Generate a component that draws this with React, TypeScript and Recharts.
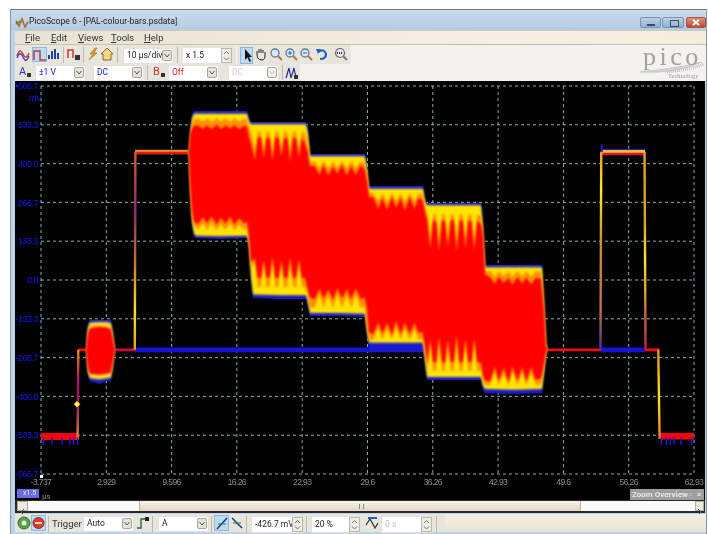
import React from "react";
import { ComposedChart, XAxis, YAxis, CartesianGrid, Area, Line, Scatter } from "recharts";

// time axis in µs, voltage axis in mV
const xTicks = [-3.737, 2.929, 9.596, 16.26, 22.93, 29.6, 36.26, 42.93, 49.6, 56.26, 62.93];
const yTicks = [666.7, 533.3, 400, 266.7, 133.3, 0, -133.3, -266.7, -400, -533.3, -666.7];
const yLabels = ["▪666.7", "533.3", "400.0", "266.7", "133.3", "0.0", "-133.3", "-266.7", "-400.0", "-533.3", "-666.7"];

// envelope of the six colour bars
const outlineTimes = [11.27, 11.37, 11.48, 11.68, 11.88, 12.09, 14.54, 17.3, 17.5, 17.7, 17.91, 20.67, 23.32, 23.52, 23.73, 26.28, 29.34, 29.55, 29.75, 32.41, 35.27, 35.47, 35.67, 38.53, 41.19, 41.39, 41.6, 44.66, 47.42, 47.62, 47.82, 47.93];
const blueHi = [443, 447, 515, 570, 581, 581, 581, 581, 557, 543, 543, 543, 543, 522, 433, 433, 433, 395, 323, 323, 323, 282, 265, 265, 265, 189, 52, 52, 52, -69, -206, -237];
const blueLo = [436, 426, 309, 189, 151, 144, 141, 144, 103, 0, -62, -65, -65, -89, -124, -124, -127, -189, -247, -247, -247, -292, -344, -344, -344, -378, -388, -392, -388, -326, -268, -244];
const yellowHi = [440, 440, 500, 555, 571, 571, 571, 571, 545, 535, 535, 535, 535, 505, 425, 425, 425, 380, 314, 314, 314, 270, 257, 257, 257, 175, 44, 44, 44, -80, -215, -240];
const yellowLo = [440, 430, 320, 200, 160, 152, 150, 152, 115, 12, -50, -52, -52, -75, -113, -113, -116, -175, -216, -216, -216, -270, -333, -333, -333, -365, -375, -377, -375, -315, -258, -240];

// red core and its orange fringe, jagged where the chroma fingers bite in
const redTimes = [11.27, 11.37, 11.48, 11.68, 11.88,
  12.3, 12.8, 13.2, 13.7, 14.2, 14.6, 15.1, 15.6, 16.0, 16.5, 17.0, 17.3, 17.5, 17.7,
  18.1, 18.4, 18.7, 19.0, 19.3, 19.6, 19.9, 20.2, 20.5, 20.8, 21.1, 21.4, 21.7, 22.0, 22.3, 22.6, 22.9, 23.2, 23.5, 23.7,
  24.2, 24.7, 25.1, 25.6, 26.1, 26.5, 27.0, 27.5, 27.9, 28.4, 28.9, 29.3, 29.55, 29.75,
  30.2, 30.7, 31.1, 31.6, 32.1, 32.5, 33.0, 33.4, 33.9, 34.4, 34.8, 35.2, 35.5, 35.7,
  36.0, 36.3, 36.6, 36.9, 37.2, 37.5, 37.8, 38.1, 38.4, 38.7, 39.0, 39.3, 39.6, 39.9, 40.2, 40.5, 40.8, 41.2, 41.4, 41.6,
  42.1, 42.6, 43.0, 43.5, 44.0, 44.4, 44.9, 45.4, 45.8, 46.3, 46.8, 47.3, 47.6, 47.8, 47.93];
const orangeHi = [438, 438, 480, 530, 552,
  556, 545, 556, 545, 556, 545, 556, 545, 556, 545, 556, 552, 525, 510,
  445, 510, 510, 450, 510, 510, 440, 510, 510, 455, 510, 510, 438, 510, 510, 450, 510, 505, 470, 405,
  408, 385, 408, 385, 408, 385, 408, 385, 408, 385, 408, 404, 360, 298,
  298, 270, 298, 268, 298, 272, 298, 266, 298, 270, 298, 295, 245, 225,
  140, 225, 225, 132, 225, 225, 145, 225, 225, 130, 225, 225, 140, 225, 225, 136, 225, 220, 150, 30,
  30, 12, 30, 14, 30, 12, 30, 13, 30, 12, 30, 28, -90, -220, -240];
const orangeLo = [440, 434, 330, 225, 190,
  172, 195, 172, 198, 170, 192, 172, 195, 170, 190, 172, 178, 140, 40,
  60, -25, -25, 55, -25, -25, 65, -25, -25, 50, -25, -25, 62, -25, -25, 56, -25, -25, -50, -95,
  -95, -50, -95, -54, -95, -48, -95, -52, -95, -50, -95, -92, -160, -205,
  -205, -165, -205, -168, -205, -162, -205, -166, -205, -168, -205, -200, -262, -312,
  -220, -312, -312, -212, -312, -312, -222, -312, -312, -208, -312, -312, -220, -312, -312, -216, -312, -312, -345, -362,
  -362, -318, -362, -322, -362, -316, -362, -320, -362, -321, -362, -358, -305, -250, -240];
const redHi = [441, 441, 500, 520, 530,
  530, 520, 532, 518, 534, 519, 531, 521, 533, 518, 530, 526, 490, 470,
  412, 488, 492, 418, 490, 486, 410, 492, 488, 425, 486, 490, 408, 491, 485, 420, 489, 470, 440, 392,
  392, 362, 395, 360, 390, 365, 396, 358, 392, 362, 394, 380, 340, 285,
  284, 245, 282, 242, 286, 248, 282, 240, 284, 246, 282, 275, 230, 205,
  108, 205, 202, 100, 206, 200, 112, 204, 207, 98, 203, 205, 108, 206, 200, 104, 204, 190, 150, 18,
  10, -14, 12, -10, 8, -16, 11, -12, 9, -15, 8, 4, -100, -225, -239];
const redLo = [439, 436, 340, 240, 200,
  192, 216, 194, 218, 190, 214, 193, 217, 191, 212, 194, 200, 150, 60,
  76, 8, 6, 70, 7, 10, 80, 6, 9, 66, 8, 7, 78, 6, 10, 72, 7, 8, -30, -60,
  -66, -30, -64, -34, -68, -28, -63, -32, -66, -30, -65, -60, -100, -180,
  -186, -145, -184, -148, -188, -142, -185, -146, -186, -148, -183, -178, -230, -285,
  -203, -282, -283, -196, -281, -284, -206, -283, -280, -192, -284, -282, -204, -281, -283, -200, -282, -285, -330, -345,
  -348, -298, -345, -302, -350, -296, -346, -300, -348, -301, -344, -338, -290, -250, -241];

// colour burst after the sync pulse
const burstTimes = [0.86, 0.96, 1.06, 1.26, 2.2, 3.0, 3.4, 3.6, 3.82];
const burstBlueHi = [-240, -180, -150, -137, -137, -137, -137, -175, -238];
const burstBlueLo = [-240, -300, -330, -347, -357, -347, -347, -306, -242];
const burstYellowHi = [-240, -189, -162, -146, -144, -144, -148, -182, -239];
const burstYellowLo = [-240, -292, -320, -338, -342, -338, -336, -300, -241];
const burstRedHi = [-240, -205, -180, -165, -160, -163, -168, -200, -240];
const burstRedLo = [-240, -280, -305, -322, -326, -322, -318, -285, -240];

// flat levels: [start, end, low, high]
const blueLevelA = [5.86, 47.9, -248, -232];
const blueLevelB = [53.44, 57.93, -248, -232];
const syncLeft = [-3.737, 0.1, -550, -526];
const syncRight = [59.45, 62.93, -548, -526];
const blankA = [0.05, 0.9, -245, -235];
const blankB = [3.8, 5.9, -245, -235];
const blankC = [47.9, 53.44, -245, -235];
const blankD = [57.93, 59.4, -245, -235];
const whiteTopOuter = [5.86, 11.3, 432, 448];
const whiteTopInner = [5.86, 11.3, 433, 441];
const whiteTop2Blue = [53.44, 57.93, 428, 451];
const whiteTop2Yellow = [53.44, 57.93, 436, 447];
const whiteTop2Red = [53.44, 57.93, 430, 437];
const spikeBlue = [53.42, 53.62, 440, 466];

// the five steep edges
const edgeA = [[0.0, -548], [0.07, -240]];
const edgeB = [[5.84, -240], [5.9, 441]];
const edgeC = [[53.38, -240], [53.46, 441]];
const edgeD = [[57.88, 441], [57.98, -240]];
const edgeE = [[59.28, -240], [59.42, -546]];

// blue specks hanging under the sync floor
const speckTimes = [-3.5, -2.6, -1.6, -0.8, -0.4, 0.0, 59.6, 60.1, 60.5, 60.9, 61.6, 62.7];
const triggerPoint = [{ t: -0.06, v: -426.7 }];

const bandRows = (ts: number[], lo: number[], hi: number[]) => ts.map((t, i) => ({ t, range: [lo[i], hi[i]] }));
const flatRows = (f: number[]) => [{ t: f[0], range: [f[2], f[3]] }, { t: f[1], range: [f[2], f[3]] }];
const edgeRows = (e: number[][]) => e.map(([t, v]) => ({ t, v }));
const speckRows = speckTimes.flatMap((t) => [{ t, v: -540 }, { t, v: -566 }, { t, v: null }]);

function Band({ rows, color, soft }: { rows: any[]; color: string; soft?: boolean }) {
  return (
    <Area
      data={rows}
      dataKey="range"
      type="linear"
      fill={color}
      fillOpacity={1}
      stroke="none"
      dot={false}
      activeDot={false}
      isAnimationActive={false}
      legendType="none"
      {...(soft ? { filter: "url(#soft)" } : {})}
    />
  );
}

const UI = 'Roboto, "Noto Sans", sans-serif';
const AXIS_FONT = '"Liberation Sans", sans-serif';

function Box({ x, y, w, h, style, children }: any) {
  return <div style={{ position: "absolute", left: x, top: y, width: w, height: h, ...style }}>{children}</div>;
}

function Txt({ x, y, size = 9, color = "#222", children, style }: any) {
  return (
    <div style={{ position: "absolute", left: x, top: y, fontFamily: UI, fontSize: size, color, lineHeight: "13px", whiteSpace: "nowrap", ...style }}>
      {children}
    </div>
  );
}

function Combo({ x, y, w, text, color = "#222", muted }: any) {
  return (
    <Box x={x} y={y} w={w} h={14} style={{ background: "#fff", border: "1px solid #e4e2dc" }}>
      <Txt x={3} y={0} size={8.5} color={color}>{text}</Txt>
      <Box x={w - 11} y={1} w={10} h={11} style={{ background: muted ? "#f0efea" : "#e6e3da", border: "1px solid #a8a59c", borderRadius: 2, boxSizing: "border-box" }}>
        <svg width={8} height={9} style={{ position: "absolute", left: 0, top: 0 }}>
          <path d="M1.5 3 L4 6 L6.5 3" fill="none" stroke={muted ? "#c4c4c4" : "#555"} />
        </svg>
      </Box>
    </Box>
  );
}

function Spinner({ x, y, w, text, color = "#222" }: any) {
  return (
    <Box x={x} y={y} w={w} h={15} style={{ background: "#fff", border: "1px solid #e4e2dc" }}>
      <Txt x={3} y={1} size={8.5} color={color}>{text}</Txt>
      <Box x={w - 11} y={0} w={11} h={15} style={{ background: "#eeece4", border: "1px solid #bbb8ae", boxSizing: "border-box" }}>
        <svg width={9} height={13} style={{ position: "absolute", left: 0, top: 0 }}>
          <path d="M2 5 L4.5 2.5 L7 5 M2 8.5 L4.5 11 L7 8.5" fill="none" stroke="#777" />
        </svg>
      </Box>
    </Box>
  );
}

function Icon({ x, y, w = 14, h = 14, on, children }: any) {
  return (
    <Box x={x} y={y} w={w} h={h + 1} style={on ? { background: "#bcdcf5", border: "1px solid #8db8dc", boxSizing: "border-box" } : {}}>
      <svg width={w} height={h} style={{ position: "absolute", left: 0, top: 0 }}>{children}</svg>
    </Box>
  );
}

function Sep({ x, y, h = 16 }: any) {
  return <Box x={x} y={y} w={1} h={h} style={{ background: "#bdb9ae" }} />;
}

function Chrome() {
  return (
    <>
      <Box x={10} y={9} w={697} h={525} style={{ background: "#bcd3ea", borderTop: "1px solid #6f7780", borderLeft: "1px solid #8b97a3", borderRight: "1px solid #8b97a3", boxSizing: "border-box" }} />
      {/* title bar */}
      <Box x={11} y={10} w={695} h={20} style={{ background: "linear-gradient(#cddbeb,#b4cbe4)" }} />
      <svg width={14} height={12} style={{ position: "absolute", left: 15, top: 17 }}>
        <path d="M1 4 L4 9 L7 2 L10 10 L13 5" fill="none" stroke="#b06a20" strokeWidth={1.6} />
        <path d="M1 7 L5 4" stroke="#3a8a3a" strokeWidth={1.5} />
      </svg>
      <Txt x={29} y={15} size={8.6} color="#1c1c1c">PicoScope 6 - [PAL-colour-bars.psdata]</Txt>
      <Box x={640} y={17} w={21} h={11} style={{ background: "linear-gradient(#bcd0e6,#8fb0d2)", border: "1px solid #7d93ab", borderRadius: 2, boxSizing: "border-box" }}>
        <Box x={6} y={6} w={8} h={2} style={{ background: "#3c4a5a" }} />
      </Box>
      <Box x={662} y={17} w={22} h={11} style={{ background: "linear-gradient(#bcd0e6,#8fb0d2)", border: "1px solid #7d93ab", borderRadius: 2, boxSizing: "border-box" }}>
        <Box x={7} y={2} w={7} h={5} style={{ border: "1px solid #3c4a5a" }} />
      </Box>
      <Box x={686} y={17} w={20} h={11} style={{ background: "linear-gradient(#e0907c,#c04a34)", border: "1px solid #a05a4c", borderRadius: 2, boxSizing: "border-box" }}>
        <svg width={18} height={9} style={{ position: "absolute", left: 0, top: 0 }}>
          <path d="M6 2 L12 7 M12 2 L6 7" stroke="#fff" strokeWidth={2} />
        </svg>
      </Box>

      {/* menu */}
      <Box x={15} y={30} w={691} h={15} style={{ background: "linear-gradient(90deg,#e8e2d4,#f6f0e4 70%,#f4ecdc)", borderTop: "1px solid #cfc8b8", borderBottom: "1px solid #c9bfae", boxSizing: "border-box" }} />
      {[["F", "ile", 25], ["E", "dit", 51], ["V", "iews", 78], ["T", "ools", 111], ["H", "elp", 144]].map(([a, b, x]) => (
        <Txt key={a as string} x={x} y={31} size={9.5} color="#333"><u>{a}</u>{b}</Txt>
      ))}

      {/* toolbars */}
      <Box x={15} y={45} w={691} h={36} style={{ background: "#f4f2ee" }} />
      <Box x={15} y={45} w={221} h={19} style={{ background: "#e8e5dc" }} />
      <Box x={237} y={45} w={114} h={19} style={{ background: "#e8e5dc" }} />
      <Box x={15} y={64} w={285} h={17} style={{ background: "#e8e5dc" }} />
      <Icon x={16} y={47}><path d="M1 9 Q4 0 7 7 T13 6" fill="none" stroke="#c8443a" strokeWidth={1.5} /><path d="M1 11 Q4 3 7 10 T13 9" fill="none" stroke="#4040c8" strokeWidth={1.3} /></Icon>
      <Icon x={32} y={47} w={15} on><path d="M1 12 V3 H7 V12 H13" fill="none" stroke="#c8343a" strokeWidth={1.5} /></Icon>
      <Icon x={47} y={47}><path d="M2 12 V8 M5 12 V4 M8 12 V2 M11 12 V6" stroke="#2040a8" strokeWidth={2} /></Icon>
      <Sep x={63} y={47} />
      <Icon x={67} y={47}><path d="M1 11 V3 H6 V11" fill="none" stroke="#c8343a" strokeWidth={1.5} /><rect x={8} y={8} width={5} height={5} fill="#333" /></Icon>
      <Sep x={83} y={47} />
      <Icon x={86} y={47}><path d="M9 1 L4 7 H7 L3 13 L11 6 H8 L11 1 Z" fill="#e0a020" stroke="#8a6010" strokeWidth={0.5} /></Icon>
      <Icon x={100} y={47}><path d="M1 7 L7 1 L13 7 H11 V13 H3 V7 Z" fill="#f0d890" stroke="#a06020" /></Icon>
      <Sep x={117} y={47} />
      <Combo x={123} y={48} w={49} text="10 µs/div" />
      <Sep x={177} y={47} />
      <Spinner x={182} y={47} w={49} text="x 1.5" />
      <Icon x={240} y={47} w={13} h={16} on><path d="M4 1 V12 L6.5 9.5 L8.5 14 L10 13 L8 9 H11 Z" fill="#111" /></Icon>
      <Icon x={254} y={47}><path d="M3 7 V4 M5 6 V2 M7 6 V2 M9 6 V3 M11 8 V5 M3 7 Q3 13 8 13 Q11 13 11 8" fill="none" stroke="#222" /></Icon>
      {[269, 284, 299].map((x, i) => (
        <Icon key={x} x={x} y={47}>
          <circle cx={6} cy={6} r={4} fill="#dce8f4" stroke="#5a7aa0" strokeWidth={1.3} />
          <path d="M9 9 L13 13" stroke="#b07a3a" strokeWidth={2} />
          {i === 1 && <path d="M4 6 H8 M6 4 V8" stroke="#3060a0" />}
          {i === 2 && <path d="M4 6 H8" stroke="#3060a0" />}
        </Icon>
      ))}
      <Icon x={315} y={47}><path d="M3 5 Q9 1 11 7 Q11 12 5 12" fill="none" stroke="#2060c8" strokeWidth={2.2} /><path d="M1 2 L6 2 L3 7 Z" fill="#2060c8" /></Icon>
      <Icon x={334} y={47}>
        <circle cx={6} cy={6} r={4.5} fill="#e4e8ec" stroke="#666" strokeWidth={1.2} />
        <path d="M9 9 L13 13" stroke="#777" strokeWidth={2} />
        <path d="M3 6 H9" stroke="#333" strokeDasharray="1 1" strokeWidth={2} />
      </Icon>

      <Txt x={19} y={65} size={11} color="#3030d0">A</Txt>
      <Box x={27} y={73} w={4} h={4} style={{ background: "#333" }} />
      <Combo x={35} y={65} w={49} text="±1 V" color="#2020d0" />
      <Combo x={93} y={65} w={49} text="DC" color="#2020d0" />
      <Sep x={147} y={65} h={15} />
      <Txt x={153} y={65} size={11} color="#d03030">B</Txt>
      <Box x={161} y={73} w={4} h={4} style={{ background: "#333" }} />
      <Combo x={168} y={65} w={49} text="Off" color="#e02020" />
      <Combo x={228} y={65} w={49} text="DC" color="#f4c0c0" muted />
      <Sep x={282} y={65} h={15} />
      <Icon x={285} y={66}><path d="M1 12 L4 2 L6 12 L9 2 L11 12" fill="none" stroke="#2a2a90" strokeWidth={1.2} /><rect x={9} y={9} width={4} height={4} fill="#333" /></Icon>

      {/* pico logo */}
      <svg width={65} height={12} style={{ position: "absolute", left: 640, top: 62 }}>
        <path d="M0 10 Q35 12 62 0 Q40 6 0 10" fill="#d4d8dc" stroke="#c4c8cc" strokeWidth={1} />
        <path d="M25 10 Q50 8 64 2" fill="none" stroke="#c0c4c8" strokeDasharray="1 1" strokeWidth={3} />
      </svg>
      <Txt x={643} y={46} size={26} color="#a2a2a0" style={{ fontFamily: '"Liberation Serif", serif', letterSpacing: 3.5, lineHeight: "22px" }}>pico</Txt>
      <Txt x={668} y={72} size={6.5} color="#9a9a9a" style={{ fontFamily: '"Liberation Serif", serif', lineHeight: "8px" }}>Technology</Txt>

      {/* scope view */}
      <Box x={15} y={81} w={690} h={420} style={{ background: "#000" }} />
      <Box x={15} y={500} w={690} h={13} style={{ background: "#2a2a2a" }} />
      <Box x={17} y={501} w={687} h={10} style={{ background: "#fafaf8" }} />
      <Box x={139} y={501} w={442} h={10} style={{ background: "linear-gradient(#f6f2e8,#e0d9c6)", borderLeft: "1px solid #b8b2a2", borderRight: "1px solid #b8b2a2", boxSizing: "border-box" }} />
      <Box x={359} y={504} w={3} h={5} style={{ borderLeft: "1px solid #888", borderRight: "1px solid #888" }} />
      <Box x={17} y={501} w={11} h={10} style={{ background: "#ece9e0", border: "1px solid #b0ac9e", boxSizing: "border-box" }}>
        <svg width={9} height={8}><path d="M6 1 L3 4 L6 7" fill="none" stroke="#555" /></svg>
      </Box>
      <Box x={695} y={501} w={9} h={10} style={{ background: "#ece9e0", border: "1px solid #b0ac9e", boxSizing: "border-box" }}>
        <svg width={7} height={8}><path d="M2 1 L5 4 L2 7" fill="none" stroke="#555" /></svg>
      </Box>
      <Box x={17} y={489} w={22} h={9} style={{ background: "#6b6be8" }}>
        <Txt x={6} y={0} size={7} color="#e8e8ff" style={{ lineHeight: "9px" }}>x1.5</Txt>
      </Box>
      <Txt x={42} y={492} size={8} color="#8a8a8a" style={{ lineHeight: "9px" }}>µs</Txt>
      <Box x={630} y={489} w={74} h={11} style={{ background: "#9e9e9e" }}>
        <Txt x={2} y={0} size={8} color="#e6e6e6" style={{ fontWeight: 700, lineHeight: "11px" }}>Zoom Overview</Txt>
        <Txt x={59} y={0} size={8} color="#e6e6e6" style={{ lineHeight: "11px" }}>▫</Txt>
        <Txt x={67} y={0} size={8} color="#f4f4f4" style={{ lineHeight: "11px" }}>×</Txt>
      </Box>

      {/* bottom toolbar */}
      <Box x={15} y={514} w={691} h={18} style={{ background: "linear-gradient(#f4f0e6,#ebe4d2)" }} />
      <Box x={15} y={514} w={430} h={18} style={{ background: "#e8e5dc" }} />
      <svg width={14} height={14} style={{ position: "absolute", left: 17, top: 516 }}>
        <circle cx={7} cy={7} r={6} fill="#58a048" stroke="#3a7030" />
        <circle cx={7} cy={7} r={2.5} fill="#e8f4e0" />
      </svg>
      <Box x={31} y={515} w={15} h={16} style={{ background: "#bcdcf5", border: "1px solid #8db8dc", boxSizing: "border-box" }}>
        <svg width={13} height={14} style={{ position: "absolute", left: 0, top: 0 }}>
          <circle cx={6.5} cy={7} r={5.5} fill="#e03a28" stroke="#a02818" />
          <path d="M3 7 H10" stroke="#fff" strokeWidth={1.6} />
        </svg>
      </Box>
      <Sep x={48} y={516} />
      <Txt x={52} y={517} size={9.5} color="#333">Trigger</Txt>
      <Combo x={83} y={516} w={49} text="Auto" />
      <Icon x={136} y={516}><path d="M1 12 H5 V3 H11" fill="none" stroke="#2a6a3a" strokeWidth={1.4} /><rect x={9} y={1} width={4} height={4} fill="#222" /></Icon>
      <Sep x={152} y={516} />
      <Combo x={158} y={516} w={49} text="A" />
      <Sep x={211} y={516} />
      <Icon x={214} y={515} w={15} h={15} on><path d="M2 13 L12 2" stroke="#1a3a8a" strokeWidth={1.5} /><path d="M3 8 H11" stroke="#1a8a3a" strokeWidth={1} /></Icon>
      <Icon x={230} y={516}><path d="M2 2 L12 12" stroke="#1a3a8a" strokeWidth={1.5} /><path d="M3 7 H11" stroke="#1a8a3a" strokeWidth={1} /></Icon>
      <Sep x={246} y={516} />
      <Spinner x={251} y={516} w={51} text="-426.7 mV" />
      <Sep x={306} y={516} />
      <Spinner x={311} y={516} w={48} text="20 %" />
      <Icon x={365} y={516}><path d="M1 9 L5 3 L10 12 L13 7" fill="none" stroke="#333" strokeWidth={1.2} /><path d="M3 2 H12" stroke="#2060c8" strokeWidth={2} /></Icon>
      <Spinner x={381} y={516} w={50} text="0 s" color="#bdbdbd" />
      <Sep x={436} y={516} />
    </>
  );
}

// small yellow rhombus for the trigger reference
const TriggerMark = (p: any) => (
  <path d={`M${p.cx - 3} ${p.cy} L${p.cx} ${p.cy - 3} L${p.cx + 3} ${p.cy} L${p.cx} ${p.cy + 3} Z`} fill="#ffff40" stroke="#e8d820" strokeWidth={0.5} />
);

function Scope() {
  return (
    <div style={{ position: "absolute", left: 0, top: 0 }}>
      <ComposedChart width={708} height={534} margin={{ top: 86, right: 14, bottom: 30, left: 0 }}>
        <defs>
          <filter id="soft" x="-2%" y="-2%" width="104%" height="104%">
            <feGaussianBlur stdDeviation="0.9" />
          </filter>
          <linearGradient id="edgeRise1" x1="0" y1="0" x2="0" y2="1">
            <stop offset="0" stopColor="#f08a20" />
            <stop offset="0.35" stopColor="#a01858" />
            <stop offset="0.6" stopColor="#a01858" />
            <stop offset="1" stopColor="#e89028" />
          </linearGradient>
          <linearGradient id="edgeRise2" x1="0" y1="0" x2="0" y2="1">
            <stop offset="0" stopColor="#e05a30" />
            <stop offset="0.3" stopColor="#8a2a70" />
            <stop offset="0.55" stopColor="#c8702c" />
            <stop offset="0.8" stopColor="#ffe020" />
            <stop offset="1" stopColor="#e8a020" />
          </linearGradient>
          <linearGradient id="edgeRise3" x1="0" y1="0" x2="0" y2="1">
            <stop offset="0" stopColor="#f0a020" />
            <stop offset="0.2" stopColor="#ffe820" />
            <stop offset="0.45" stopColor="#c89040" />
            <stop offset="0.8" stopColor="#c07040" />
            <stop offset="1" stopColor="#4030b0" />
          </linearGradient>
          <linearGradient id="edgeFall1" x1="0" y1="0" x2="0" y2="1">
            <stop offset="0" stopColor="#e8a030" />
            <stop offset="0.35" stopColor="#d8a030" />
            <stop offset="0.55" stopColor="#ffe820" />
            <stop offset="0.8" stopColor="#c87030" />
            <stop offset="1" stopColor="#c02040" />
          </linearGradient>
          <linearGradient id="edgeFall2" x1="0" y1="0" x2="0" y2="1">
            <stop offset="0" stopColor="#e89028" />
            <stop offset="0.55" stopColor="#ffe020" />
            <stop offset="1" stopColor="#e08030" />
          </linearGradient>
        </defs>
        <CartesianGrid
          stroke="#86b0b4"
          strokeDasharray="3 3"
          strokeWidth={1}
          horizontalValues={yTicks}
          verticalValues={xTicks}
          syncWithTicks={false}
        />
        <XAxis
          dataKey="t"
          type="number"
          domain={[-3.737, 62.93]}
          ticks={xTicks}
          interval={0}
          height={30}
          axisLine={false}
          tickLine={false}
          tickSize={0}
          tickMargin={5}
          allowDataOverflow
          tick={{ fill: "#8c8c8c", fontSize: 8.5, letterSpacing: -0.6, fontFamily: AXIS_FONT }}
        />
        <YAxis
          type="number"
          domain={[-666.7, 666.7]}
          ticks={yTicks}
          interval={0}
          width={41}
          axisLine={false}
          tickLine={false}
          tickSize={0}
          tickMargin={3}
          allowDataOverflow
          tickFormatter={(v: number) => yLabels[yTicks.indexOf(v)]}
          tick={{ fill: "#1616f0", fontSize: 9, letterSpacing: -0.5, fontFamily: AXIS_FONT }}
        />

        {Band({ rows: flatRows(blueLevelA), color: "#1414d2" })}
        {Band({ rows: flatRows(blueLevelB), color: "#1414d2" })}
        {Band({ rows: flatRows(blankA), color: "#f00a14" })}
        {Band({ rows: flatRows(blankB), color: "#c80a38" })}
        {Band({ rows: flatRows(blankC), color: "#f00a14" })}
        {Band({ rows: flatRows(blankD), color: "#f00a14" })}
        {Band({ rows: flatRows(syncLeft), color: "#ff0000" })}
        {Band({ rows: flatRows(syncRight), color: "#ff0000" })}
        {Band({ rows: flatRows(whiteTopOuter), color: "#d89a30" })}
        {Band({ rows: flatRows(whiteTopInner), color: "#f01010" })}
        {Band({ rows: flatRows(whiteTop2Blue), color: "#1c1cc8" })}
        {Band({ rows: flatRows(whiteTop2Yellow), color: "#e8c030" })}
        {Band({ rows: flatRows(whiteTop2Red), color: "#f01010" })}
        {Band({ rows: flatRows(spikeBlue), color: "#1c1cd8" })}

        {Band({ rows: bandRows(burstTimes, burstBlueLo, burstBlueHi), color: "#1a1ac0" })}
        {Band({ rows: bandRows(burstTimes, burstYellowLo, burstYellowHi), color: "#ffd820", soft: true })}
        {Band({ rows: bandRows(burstTimes, burstRedLo, burstRedHi), color: "#ff0000", soft: true })}

        {Band({ rows: bandRows(outlineTimes, blueLo, blueHi), color: "#1818d0" })}
        {Band({ rows: bandRows(outlineTimes, yellowLo, yellowHi), color: "#ffe400", soft: true })}
        {Band({ rows: bandRows(redTimes, orangeLo, orangeHi), color: "#ff9000", soft: true })}
        {Band({ rows: bandRows(redTimes, redLo, redHi), color: "#ff0000", soft: true })}

        <Line data={edgeRows(edgeA)} dataKey="v" stroke="url(#edgeRise1)" strokeWidth={2.4} dot={false} activeDot={false} isAnimationActive={false} />
        <Line data={edgeRows(edgeB)} dataKey="v" stroke="url(#edgeRise2)" strokeWidth={2.4} dot={false} activeDot={false} isAnimationActive={false} />
        <Line data={edgeRows(edgeC)} dataKey="v" stroke="url(#edgeRise3)" strokeWidth={2.4} dot={false} activeDot={false} isAnimationActive={false} />
        <Line data={edgeRows(edgeD)} dataKey="v" stroke="url(#edgeFall1)" strokeWidth={2.4} dot={false} activeDot={false} isAnimationActive={false} />
        <Line data={edgeRows(edgeE)} dataKey="v" stroke="url(#edgeFall2)" strokeWidth={2.4} dot={false} activeDot={false} isAnimationActive={false} />
        <Line data={speckRows} dataKey="v" stroke="#1a1ae0" strokeWidth={1.4} dot={false} activeDot={false} connectNulls={false} isAnimationActive={false} />
        <Scatter data={triggerPoint} dataKey="v" shape={TriggerMark} isAnimationActive={false} />
      </ComposedChart>
      <Txt x={29} y={92} size={9} color="#1616f0" style={{ fontFamily: AXIS_FONT, letterSpacing: -0.4 }}>mV</Txt>
      <Box x={40} y={475} w={3} h={3} style={{ background: "#fff" }} />
    </div>
  );
}

export default function App() {
  return (
    <div style={{ position: "absolute", left: 0, top: 0, width: 708, height: 534, background: "#fff", overflow: "hidden", filter: "blur(0.35px)" }}>
      <Chrome />
      <Scope />
    </div>
  );
}
